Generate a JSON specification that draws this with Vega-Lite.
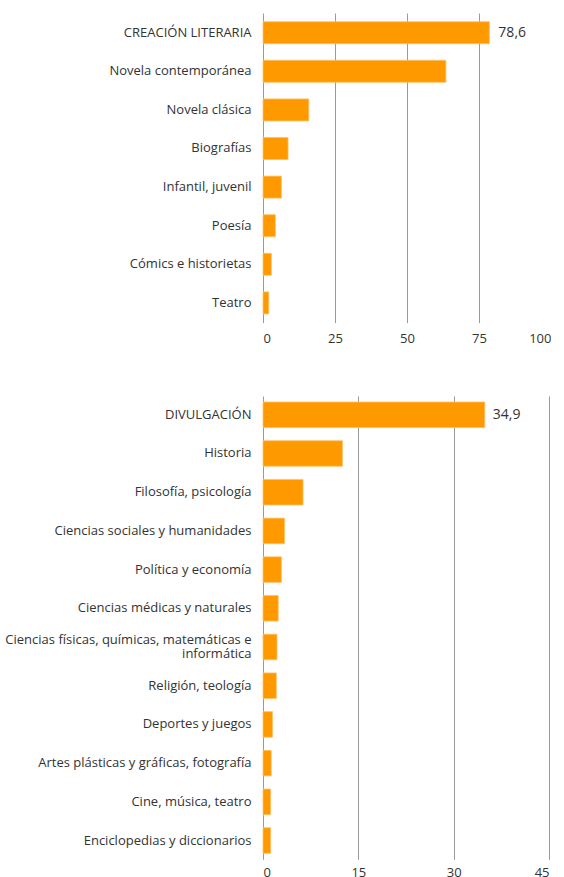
{
  "$schema": "https://vega.github.io/schema/vega-lite/v6.json",
  "padding": {"top": 13, "left": 0, "right": 0, "bottom": 0},
  "spacing": 50,
  "config": {
    "view": {"stroke": null},
    "font": "Open Sans",
    "locale": {"number": {"decimal": ",", "thousands": ".", "grouping": [3], "currency": ["", " €"]}},
    "axisX": {"grid": true, "gridColor": "#9a9a9a", "gridWidth": 1, "domain": false, "ticks": false, "labelFontSize": 13, "labelColor": "#333333", "labelPadding": 10, "title": null, "minExtent": 22, "maxExtent": 22},
    "axisY": {"grid": false, "domain": false, "ticks": false, "labelFontSize": 13, "labelColor": "#333333", "labelPadding": 12, "labelLimit": 262, "title": null, "labelLineHeight": 14}
  },
  "vconcat": [
    {
      "width": 288,
      "height": 309.6,
      "data": {"values": [
        {"categoria": "CREACIÓN LITERARIA", "valor": 78.6},
        {"categoria": "Novela contemporánea", "valor": 63.5},
        {"categoria": "Novela clásica", "valor": 15.9},
        {"categoria": "Biografías", "valor": 8.7},
        {"categoria": "Infantil, juvenil", "valor": 6.4},
        {"categoria": "Poesía", "valor": 4.3},
        {"categoria": "Cómics e historietas", "valor": 2.9},
        {"categoria": "Teatro", "valor": 2.0}
      ]},
      "layer": [
        {
          "mark": {"type": "bar", "color": "#ff9900", "stroke": "#ffc266", "strokeWidth": 0.8},
          "encoding": {
            "y": {"field": "categoria", "type": "nominal", "sort": null, "scale": {"paddingInner": 0.43, "paddingOuter": 0.225}, "axis": {"minExtent": 263, "maxExtent": 263}},
            "x": {"field": "valor", "type": "quantitative", "scale": {"domain": [0, 100], "nice": false}, "axis": {"values": [0, 25, 50, 75, 100]}}
          }
        },
        {
          "transform": [{"filter": "datum.categoria == 'CREACIÓN LITERARIA'"}],
          "mark": {"type": "text", "align": "left", "baseline": "middle", "dx": 9, "fontSize": 14, "color": "#333333"},
          "encoding": {
            "y": {"field": "categoria", "type": "nominal", "sort": null},
            "x": {"field": "valor", "type": "quantitative"},
            "text": {"field": "valor", "type": "quantitative", "format": ".1f"}
          }
        }
      ]
    },
    {
      "width": 286,
      "height": 463.3,
      "data": {"values": [
        {"categoria": "DIVULGACIÓN", "valor": 34.9},
        {"categoria": "Historia", "valor": 12.5},
        {"categoria": "Filosofía, psicología", "valor": 6.3},
        {"categoria": "Ciencias sociales y humanidades", "valor": 3.4},
        {"categoria": "Política y economía", "valor": 2.9},
        {"categoria": "Ciencias médicas y naturales", "valor": 2.4},
        {"categoria": "Ciencias físicas, químicas, matemáticas e informática", "valor": 2.2},
        {"categoria": "Religión, teología", "valor": 2.1},
        {"categoria": "Deportes y juegos", "valor": 1.5},
        {"categoria": "Artes plásticas y gráficas, fotografía", "valor": 1.3},
        {"categoria": "Cine, música, teatro", "valor": 1.2},
        {"categoria": "Enciclopedias y diccionarios", "valor": 1.2}
      ]},
      "layer": [
        {
          "mark": {"type": "bar", "color": "#ff9900", "stroke": "#ffc266", "strokeWidth": 0.8},
          "encoding": {
            "y": {"field": "categoria", "type": "nominal", "sort": null, "scale": {"paddingInner": 0.34, "paddingOuter": 0.155},
              "axis": {
                "minExtent": 262, "maxExtent": 262,
                "labelExpr": "datum.label == 'Ciencias físicas, químicas, matemáticas e informática' ? ['Ciencias físicas, químicas, matemáticas e', 'informática'] : datum.label",
                "labelOffset": {"condition": {"test": "datum.value == 'Ciencias físicas, químicas, matemáticas e informática'", "value": -7}, "value": 0},
                "encode": {"labels": {"update": {
                  "align": {"signal": "datum.value == 'Ciencias físicas, químicas, matemáticas e informática' ? 'center' : 'right'"},
                  "dx": {"signal": "datum.value == 'Ciencias físicas, químicas, matemáticas e informática' ? -122 : 0"}
                }}}
              }},
            "x": {"field": "valor", "type": "quantitative", "scale": {"domain": [0, 45], "nice": false}, "axis": {"values": [0, 15, 30, 45], "labelPadding": 7}}
          }
        },
        {
          "transform": [{"filter": "datum.categoria == 'DIVULGACIÓN'"}],
          "mark": {"type": "text", "align": "left", "baseline": "middle", "dx": 8, "fontSize": 14, "color": "#333333"},
          "encoding": {
            "y": {"field": "categoria", "type": "nominal", "sort": null},
            "x": {"field": "valor", "type": "quantitative"},
            "text": {"field": "valor", "type": "quantitative", "format": ".1f"}
          }
        }
      ]
    }
  ]
}
